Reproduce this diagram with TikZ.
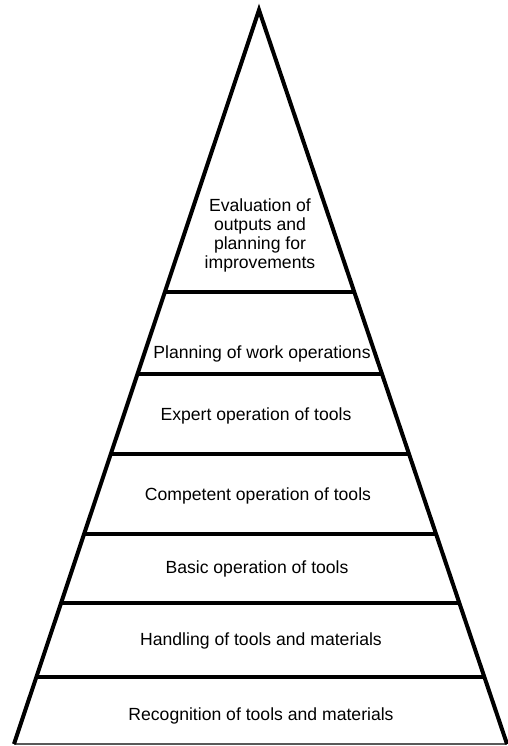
\documentclass[tikz,border=0pt]{standalone}
\usepackage{fontspec}
\setmainfont{Liberation Sans}
\usetikzlibrary{calc}
\begin{document}
\begin{tikzpicture}[x=1pt,y=-1pt,
  side/.style={line width=4pt,line join=miter},
  tier/.style={line width=3.5pt},
  lbl/.style={font=\fontsize{17.6}{19}\selectfont,align=center,inner sep=0pt}]
\useasboundingbox (0,0) rectangle (507,746);
\coordinate (apex) at (259,10);
\coordinate (bl) at (14,744);
\coordinate (br) at (507,744);
\draw[gray!70!black,line width=1.5pt] (bl) -- (br);
\foreach \t/\n in {0.3842/a,0.4959/b,0.6049/c,0.7139/d,0.8079/e,0.9087/f}{
  \coordinate (L\n) at ($(apex)!\t!(bl)$);
  \coordinate (R\n) at ($(apex)!\t!(br)$);
  \draw[tier] (L\n) -- (R\n);
}
\draw[side] (bl) -- (apex) -- (br);
\node[lbl] (t1) at (260,235) {Evaluation of\\outputs and\\planning for\\improvements};
\node[lbl] (t2) at (262,354) {Planning of work operations};
\node[lbl] (t3) at (256,416) {Expert operation of tools};
\node[lbl] (t4) at (258,496) {Competent operation of tools};
\node[lbl] (t5) at (257,569) {Basic operation of tools};
\node[lbl] (t6) at (261,641) {Handling of tools and materials};
\node[lbl] (t7) at (261,716) {Recognition of tools and materials};
\end{tikzpicture}
\end{document}
